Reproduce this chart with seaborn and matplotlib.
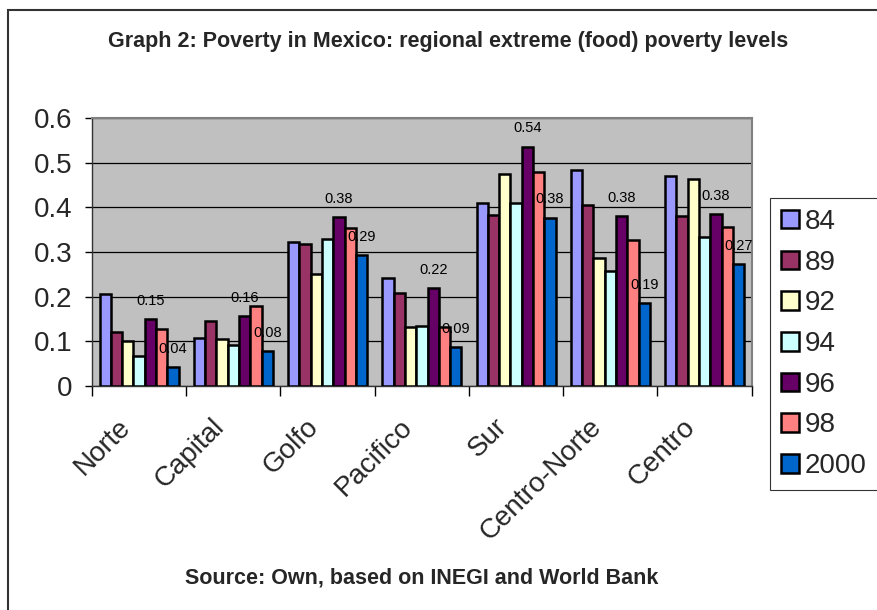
import numpy as np
import pandas as pd
import matplotlib
matplotlib.use("Agg")
import matplotlib.pyplot as plt
import seaborn as sns
from matplotlib.patches import Rectangle
from matplotlib.ticker import FixedLocator
from matplotlib.transforms import ScaledTranslation

regions = ["Norte", "Capital", "Golfo", "Pacifico", "Sur", "Centro-Norte", "Centro"]
years = ["84", "89", "92", "94", "96", "98", "2000"]
v84 = [0.205, 0.108, 0.323, 0.242, 0.410, 0.483, 0.471]
v89 = [0.122, 0.145, 0.319, 0.209, 0.382, 0.406, 0.381]
v92 = [0.100, 0.106, 0.250, 0.131, 0.475, 0.286, 0.463]
v94 = [0.068, 0.091, 0.330, 0.134, 0.410, 0.257, 0.334]
v96 = [0.150, 0.157, 0.378, 0.220, 0.536, 0.380, 0.384]
v98 = [0.128, 0.180, 0.354, 0.133, 0.480, 0.327, 0.355]
v2000 = [0.043, 0.078, 0.294, 0.087, 0.377, 0.186, 0.273]
labelled_years = ["96", "2000"]
colors = ["#9999FF", "#993366", "#FFFFCC", "#CCFFFF", "#660066", "#FF8080", "#0066CC"]
title = "Graph 2: Poverty in Mexico: regional extreme (food) poverty levels"
source = "Source: Own, based on INEGI and World Bank"

series = [v84, v89, v92, v94, v96, v98, v2000]
rows = []
for y, vals in zip(years, series):
    for r, v in zip(regions, vals):
        rows.append({"region": r, "year": y, "value": v})
df = pd.DataFrame(rows)

sns.set_theme(style="white")
plt.rcParams["font.family"] = ["Liberation Sans", "DejaVu Sans"]

fig = plt.figure(figsize=(8.77, 6.10), dpi=100)
ax = fig.add_axes([92/877, 1-386/610, (751.7-92)/877, (386-118)/610])
ax.set_facecolor("#C0C0C0")

sns.barplot(data=df, x="region", y="value", hue="year", order=regions, hue_order=years,
            palette=colors, saturation=1, width=0.84, edgecolor="black", linewidth=1.8,
            errorbar=None, ax=ax, zorder=3)

ax.set_ylim(0, 0.6)
ax.set_xlim(-0.5, len(regions) - 0.5)
ax.set_yticks(np.arange(0, 0.61, 0.1))
ax.set_yticklabels(["0", "0.1", "0.2", "0.3", "0.4", "0.5", "0.6"], fontsize=20)
ax.yaxis.grid(True, color="black", linewidth=0.9, zorder=0)
ax.set_axisbelow(True)
ax.tick_params(axis="y", length=5, width=1, color="black", direction="out", left=True, pad=9)
ax.set_xlabel("")
ax.set_ylabel("")

# x tick marks at category boundaries, labels at centres
ax.xaxis.set_minor_locator(FixedLocator(np.arange(-0.5, len(regions), 1.0)))
ax.tick_params(axis="x", which="minor", length=7, width=1, color="black", direction="out", bottom=True)
ax.tick_params(axis="x", which="major", length=0, pad=0)
ax.set_xticks(range(len(regions)))
ax.set_xticklabels(regions, rotation=45, ha="right", va="center", rotation_mode="anchor", fontsize=20)
shift = ScaledTranslation(-0.13, -0.37, fig.dpi_scale_trans)
for lab in ax.get_xticklabels():
    lab.set_transform(lab.get_transform() + shift)

for name, sp in ax.spines.items():
    sp.set_visible(True)
    sp.set_color("#808080")
    sp.set_linewidth(1.5)
ax.spines["left"].set_color("#333333")
ax.spines["left"].set_linewidth(1)
ax.spines["bottom"].set_color("#333333")
ax.spines["bottom"].set_linewidth(1)

# data labels
for cont, y in zip(ax.containers, years):
    if y in labelled_years:
        ax.bar_label(cont, fmt="%.2f", padding=8, fontsize=10.5, color="black", zorder=5)

# legend
handles, labels = ax.get_legend_handles_labels()
if ax.legend_ is not None:
    ax.legend_.remove()
leg = fig.legend(handles, labels, loc="center", bbox_to_anchor=(824/877, 1-344/610),
                 fontsize=20, frameon=True, fancybox=False, edgecolor="black",
                 handlelength=0.65, handleheight=0.65, handletextpad=0.2,
                 labelspacing=0.53, borderpad=0.4, borderaxespad=0)
leg.get_frame().set_linewidth(0.8)

fig.text(448/877, 1-42/610, title, ha="center", va="center", fontsize=15.5, fontweight="bold")
fig.text(422/877, 1-578/610, source, ha="center", va="center", fontsize=15.5, fontweight="bold")

fig.patches.append(Rectangle((8/877, -0.1), 1.2, 1.1 - 10/610, transform=fig.transFigure,
                             fill=False, edgecolor="#333333", linewidth=1.5, clip_on=False))

fig.savefig("out.png", dpi=100, facecolor="white")
